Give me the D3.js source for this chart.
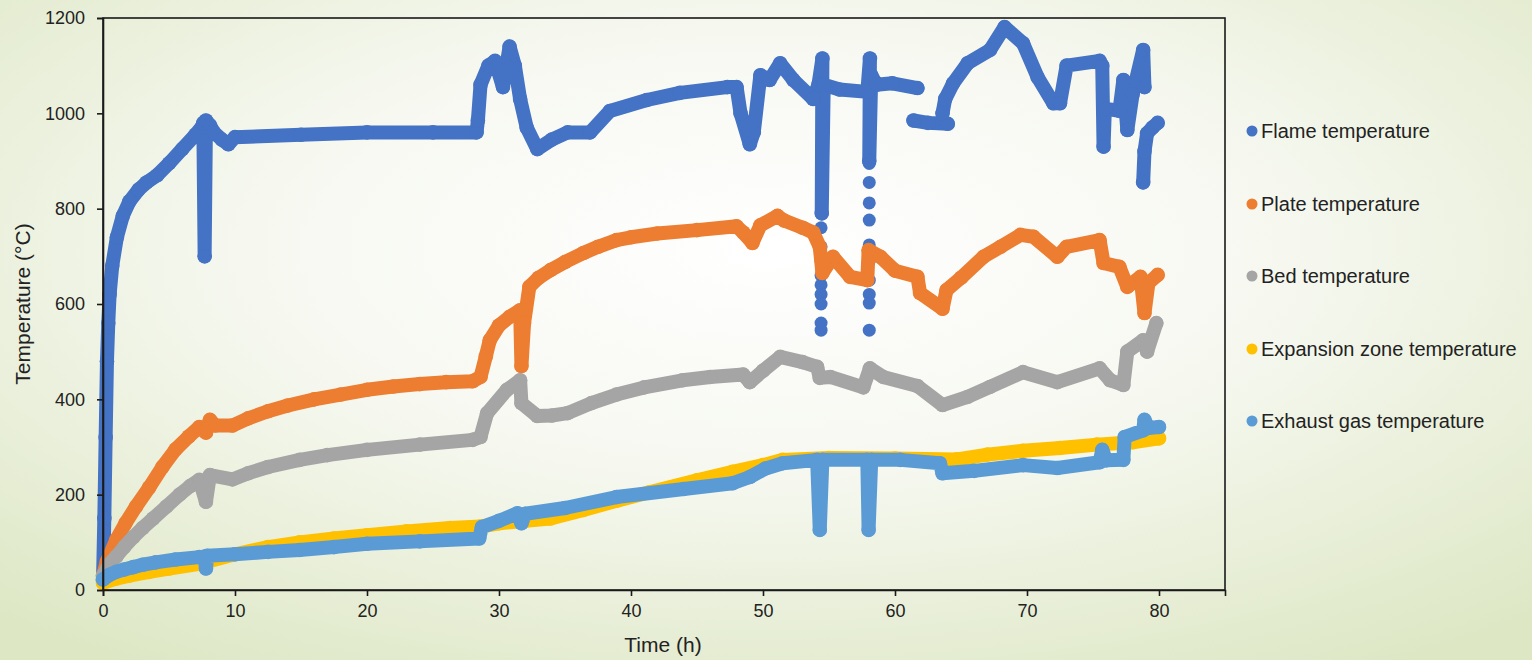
<!DOCTYPE html>
<html><head><meta charset="utf-8">
<script src="https://cdn.jsdelivr.net/npm/d3@7"></script>
<style>html,body{margin:0;padding:0;overflow:hidden;}svg{display:block;}</style>
</head><body>
<svg id="chart" width="1532" height="660"></svg>
<script>
// ---- data (x = time h, y = temperature °C); null = break in the trace
const seriesNames = ["Flame temperature","Plate temperature","Bed temperature","Expansion zone temperature","Exhaust gas temperature"];
const seriesColors = ["#4472C4","#ED7D31","#A5A5A5","#FFC000","#5B9BD5"];
const xTicks = [0,10,20,30,40,50,60,70,80];
const yTicks = [0,200,400,600,800,1000,1200];

const flame = [[0,20],[0.1,150],[0.2,320],[0.3,480],[0.4,560],[0.5,620],[0.7,680],[1.05,740],[1.5,785],[2,815],[2.7,840],[3.3,855],[4.1,870],[5,895],[6,925],[7,955],[7.5,972],[7.6,980],[7.7,700],[7.8,985],[8.1,975],[8.4,960],[9,945],[9.5,935],[10,950],[15,955],[20,960],[25,960],[28.3,960],[28.4,985],[28.6,1060],[29.2,1100],[29.7,1110],[30.3,1055],[30.8,1140],[31.2,1100],[31.6,1030],[32.1,970],[32.9,925],[34,945],[35.2,960],[36.9,960],[38.4,1005],[41.2,1028],[43.7,1043],[47.3,1055],[48,1055],[48.3,1000],[49,935],[49.3,960],[49.8,1080],[50.5,1070],[51.3,1105],[52.3,1070],[53.8,1030],[54.2,1060],[54.5,1115],[54.45,790],[54.6,1060],[55.8,1050],[57.9,1045],[58.1,1115],[58.05,900],[58.2,1080],[58.6,1060],[59.8,1063],[61.7,1053],null,[61.4,985],[62.5,980],[64,978],null,[63.6,1000],[63.8,1030],[64.4,1063],[65.5,1105],[67.2,1133],[68.3,1181],[69.7,1147],[70.8,1076],[72,1021],[72.5,1021],[73,1100],[75.5,1110],[75.7,1100],[75.8,930],[75.9,1010],[77,1005],[77.3,1070],[77.6,965],[78,1040],[78.8,1133],[78.9,1055],null,[78.8,855],[78.9,920],[79.1,958],[79.5,970],[79.9,980]];
const flameDots = [[54.4,760],[54.4,720],[54.4,690],[54.4,660],[54.4,640],[54.4,620],[54.4,600],[54.4,560],[54.4,545],[58.05,895],[58.05,855],[58.05,812],[58.05,776],[58.05,724],[58.05,690],[58.05,650],[58.05,620],[58.05,602],[58.05,545]];
const plate = [[0,30],[0.3,60],[1,105],[1.7,140],[2.5,175],[3.5,215],[4.5,258],[5.5,295],[6.5,322],[7.3,342],[7.8,330],[8.1,357],[8.5,345],[9.8,345],[11,360],[12.5,375],[14,387],[16,400],[18,410],[20,420],[22,427],[24,432],[26,436],[28,438],[28.6,447],[29,490],[29.3,524],[30,555],[30.8,573],[31.6,587],[31.7,470],[31.9,560],[32.3,636],[33,655],[33.9,671],[35,688],[36.4,707],[37.5,720],[38.9,734],[40,740],[42,748],[45,755],[48,763],[48.5,750],[49.2,728],[49.8,765],[51.1,785],[51.6,775],[53,760],[53.8,750],[54.3,720],[54.5,665],[55.3,699],[56.6,657],[57.9,650],[58,713],[58.9,699],[60,670],[61.7,657],[61.9,623],[63.6,590],[63.9,629],[65,655],[66.7,699],[68,720],[69.5,745],[70.5,741],[72.3,699],[73,720],[75.5,734],[75.8,686],[77,678],[77.6,636],[78.6,657],[78.9,581],[79.2,644],[79.9,661]];
const bed = [[0,30],[0.5,55],[1,70],[1.6,90],[2.3,111],[3,130],[3.8,150],[4.8,175],[5.8,200],[6.6,218],[7.3,231],[7.8,185],[8.1,241],[9.8,232],[11,245],[12.5,258],[14.9,273],[17,283],[20,294],[24,305],[28,315],[28.6,321],[29.1,371],[30.6,420],[31.6,440],[31.7,392],[32.9,365],[34,366],[35.2,371],[37,392],[38.9,410],[41,425],[43.9,440],[46,447],[48.5,452],[49,436],[50,460],[51.3,489],[53,478],[54.1,468],[54.3,445],[55.1,447],[57.6,425],[58.1,465],[59.1,447],[61.7,428],[63.6,388],[65.5,405],[67.2,426],[69.7,457],[72.3,436],[75.5,465],[76.3,440],[77.3,430],[77.6,500],[78.8,524],[79.1,500],[79.8,560]];
const expansion = [[0,15],[1,24],[2,30],[3.5,38],[5,45],[7.3,55],[10,75],[12.5,90],[14.9,100],[17.5,108],[20,115],[23,123],[26.3,130],[28.6,133],[30,140],[32,145],[33.9,150],[36.4,168],[39,188],[41.4,205],[45,230],[47.7,248],[50,262],[51.5,273],[55,277],[60,276],[64.7,274],[67,284],[69.7,292],[72.5,298],[75.3,305],[78,310],[80,318]];
const exhaust = [[0,22],[0.5,32],[1,38],[1.6,43],[2.3,48],[3,53],[4,58],[5.5,64],[7.3,69],[7.7,70],[7.8,45],[7.9,72],[10,75],[12.5,80],[14.9,84],[17.5,90],[20,97],[24,102],[28.5,108],[28.7,132],[30,145],[31.4,161],[31.7,140],[32,160],[35,172],[38.9,195],[44,212],[47.7,224],[49,237],[50.2,255],[51.5,266],[54.1,273],[54.3,126],[54.5,273],[57.9,273],[58,126],[58.2,273],[60.4,273],[63.4,266],[63.6,245],[66,250],[69.7,262],[72.3,256],[75.5,268],[75.7,294],[76,272],[77.3,273],[77.4,321],[78.8,335],[78.9,357],[79.2,340],[80,342]];

const allSeries = [flame, plate, bed, expansion, exhaust];

// ---- layout
const W = 1532, H = 660;
const L = 103, R = 1225, T = 18, B = 590;
const svg = d3.select("#chart");
const font = "'Liberation Sans', Arial, sans-serif";
const ink = "#222";

const defs = svg.append("defs");
const grad = defs.append("radialGradient").attr("id","bg").attr("cx","0.5").attr("cy","0.38").attr("r","0.75");
grad.append("stop").attr("offset","0%").attr("stop-color","#ffffff");
grad.append("stop").attr("offset","45%").attr("stop-color","#f6f8f0");
grad.append("stop").attr("offset","100%").attr("stop-color","#dde7c4");
svg.append("rect").attr("width",W).attr("height",H).attr("fill","url(#bg)");

const x = d3.scaleLinear().domain([0,85]).range([L,R]);
const y = d3.scaleLinear().domain([0,1200]).range([B,T]);

const line = d3.line().defined(d => d !== null).x(d => x(d[0])).y(d => y(d[1]));

const g = svg.append("g");
allSeries.forEach((s,i) => {
  g.append("path").datum(s).attr("d", line)
    .attr("fill","none").attr("stroke",seriesColors[i])
    .attr("stroke-width",14).attr("stroke-linejoin","round").attr("stroke-linecap","round");
  g.selectAll(null).data(s.filter(d => d !== null)).enter().append("circle")
    .attr("cx", d => x(d[0])).attr("cy", d => y(d[1])).attr("r",7.3)
    .attr("fill",seriesColors[i]);
  if (i === 0) {
    g.selectAll(null).data(flameDots).enter().append("circle")
      .attr("cx", d => x(d[0])).attr("cy", d => y(d[1])).attr("r",6.5)
      .attr("fill",seriesColors[0]);
  }
});

// frame
svg.append("rect").attr("x",L).attr("y",T).attr("width",R-L).attr("height",B-T)
  .attr("fill","none").attr("stroke","#1a1a1a").attr("stroke-width",1.6);

// axes
const xAxis = svg.append("g").attr("transform",`translate(0,${B})`)
  .call(d3.axisBottom(x).tickValues(xTicks).tickFormat(d3.format("d")).tickSize(6).tickPadding(8));
const yAxis = svg.append("g").attr("transform",`translate(${L},0)`)
  .call(d3.axisLeft(y).tickValues(yTicks).tickFormat(d3.format("d")).tickSize(6).tickPadding(12));
[xAxis,yAxis].forEach(a => {
  a.select(".domain").attr("stroke","#1a1a1a").attr("stroke-width",1.6);
  a.selectAll(".tick line").attr("stroke","#1a1a1a").attr("stroke-width",1.6);
  a.selectAll(".tick text").attr("font-family",font).attr("font-size",18).attr("fill",ink);
});

svg.append("text").attr("x",663).attr("y",652).attr("text-anchor","middle")
  .attr("font-family",font).attr("font-size",21).attr("fill",ink).text("Time (h)");
svg.append("text").attr("transform","translate(30,304) rotate(-90)").attr("text-anchor","middle")
  .attr("font-family",font).attr("font-size",21).attr("fill",ink).text("Temperature (°C)");

// legend
const legY = [131,204,276,349,421];
seriesNames.forEach((n,i) => {
  svg.append("circle").attr("cx",1252).attr("cy",legY[i]).attr("r",5.5).attr("fill",seriesColors[i]);
  svg.append("text").attr("x",1261).attr("y",legY[i]).attr("dy","0.35em")
    .attr("font-family",font).attr("font-size",20).attr("fill",ink).text(n);
});
</script>
</body></html>
